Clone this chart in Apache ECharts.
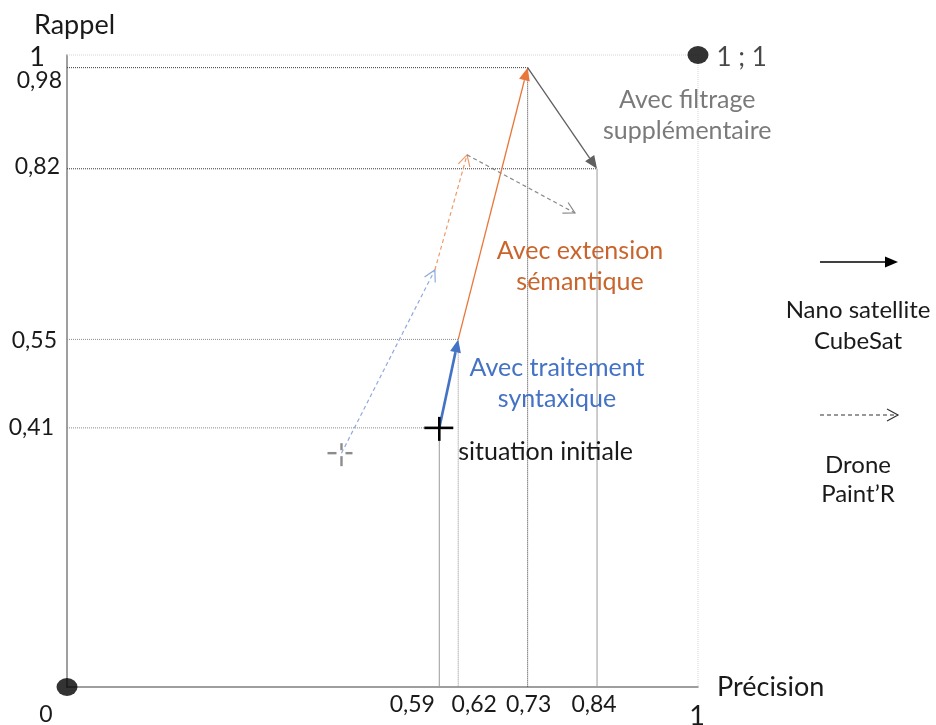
<!DOCTYPE html>
<html>
<head>
<meta charset="utf-8">
<title>Rappel / Précision</title>
<script src="https://cdn.jsdelivr.net/npm/echarts@6/dist/echarts.min.js"></script>
<style>
html, body { margin: 0; padding: 0; background: #fff; }
#chart { width: 936px; height: 725px; }
</style>
</head>
<body>
<div id="chart"></div>
<script>
// tick labels on each axis (0 is the shared origin label)
const xTicks = [0, 0.59, 0.62, 0.73, 0.84, 1];
const yTicks = [0.41, 0.55, 0.82, 0.98, 1];

// precision / recall after each processing step
// steps: initial -> syntaxique -> sémantique -> filtrage
const cubesatPrecision = [0.59, 0.62, 0.73, 0.84];
const cubesatRecall = [0.41, 0.55, 0.98, 0.82];
const dronePrecision = [0.435, 0.583, 0.634, 0.805];
const droneRecall = [0.37, 0.66, 0.842, 0.75];

const corners = [[0, 0], [1, 1]];

const FONT = 'Lato, "Open Sans", sans-serif';
const stepColors = ['#4472C4', '#E8773A', '#5f5f5f'];
const droneColors = ['#8FAADC', '#EE9A68', '#8a8a8a'];

const notes = [
  { text: 'Avec filtrage\nsupplémentaire', at: [0.983, 0.905], color: '#7a7a7a', align: 'center' },
  { text: 'Avec extension\nsémantique', at: [0.813, 0.665], color: '#C9642C', align: 'center' },
  { text: 'Avec traitement\nsyntaxique', at: [0.7765, 0.48], color: '#4472C4', align: 'center' },
  { text: 'situation initiale', at: [0.62, 0.372], color: '#1a1a1a', align: 'left' }
];

const guideStyles = {
  darkDot: { stroke: '#3a3a3a', lineWidth: 1, lineDash: [1, 1] },
  grayDot: { stroke: '#8c8c8c', lineWidth: 1, lineDash: [1, 1] },
  graySolid: { stroke: '#9a9a9a', lineWidth: 1 },
  lightDot: { stroke: '#d6d6d6', lineWidth: 1, lineDash: [1, 1] }
};
const hGuide = ['grayDot', 'grayDot', 'darkDot', 'darkDot'];
const vGuide = ['graySolid', 'grayDot', 'darkDot', 'graySolid'];

function fmt (v) {
  return String(v).replace('.', ',');
}

function arrowShapes (p1, p2, color, width, dashed) {
  const len = dashed ? 11 : 13;
  const half = dashed ? 6 : 5.5;
  const dx = p2[0] - p1[0];
  const dy = p2[1] - p1[1];
  const d = Math.hypot(dx, dy);
  const ux = dx / d;
  const uy = dy / d;
  const bx = p2[0] - ux * len;
  const by = p2[1] - uy * len;
  const left = [bx - uy * half, by + ux * half];
  const right = [bx + uy * half, by - ux * half];
  const line = {
    type: 'line',
    shape: { x1: p1[0], y1: p1[1], x2: dashed ? p2[0] : bx, y2: dashed ? p2[1] : by },
    style: { stroke: color, lineWidth: width, lineDash: dashed ? [4, 3] : null }
  };
  const head = dashed
    ? { type: 'polyline', shape: { points: [left, p2, right] }, style: { stroke: color, lineWidth: 1.2, fill: 'none' } }
    : { type: 'polygon', shape: { points: [left, p2, right] }, style: { fill: color } };
  return [line, head];
}

function pathSeries (name, xs, ys, colors, widths, dashed) {
  return {
    type: 'custom',
    name: name,
    silent: true,
    z: 5,
    encode: { x: [0, 2], y: [1, 3] },
    data: xs.slice(1).map((x, i) => [xs[i], ys[i], x, ys[i + 1], i]),
    renderItem (params, api) {
      const i = api.value(4);
      const p1 = api.coord([api.value(0), api.value(1)]);
      const p2 = api.coord([api.value(2), api.value(3)]);
      return { type: 'group', children: arrowShapes(p1, p2, colors[i], widths[i], dashed) };
    }
  };
}

const chart = echarts.init(document.getElementById('chart'));

chart.setOption({
  animation: false,
  backgroundColor: '#fff',
  grid: { left: 67, right: 238, top: 55, bottom: 38 },
  xAxis: {
    type: 'value', min: 0, max: 1,
    name: 'Précision', nameLocation: 'end', nameGap: 19,
    nameTextStyle: { fontSize: 27, color: '#1a1a1a', fontFamily: FONT },
    axisLine: { lineStyle: { color: '#7f7f7f', width: 1.5 } },
    axisTick: { show: false }, axisLabel: { show: false }, splitLine: { show: false }
  },
  yAxis: {
    type: 'value', min: 0, max: 1,
    name: 'Rappel', nameLocation: 'end', nameGap: 16,
    nameTextStyle: { fontSize: 27, color: '#1a1a1a', fontFamily: FONT, padding: [0, 0, 0, 15] },
    axisLine: { lineStyle: { color: '#7f7f7f', width: 1.5 } },
    axisTick: { show: false }, axisLabel: { show: false }, splitLine: { show: false }
  },
  series: [
    {
      // dotted / solid guide lines from each CubeSat point to the axes, plus the 1;1 frame
      type: 'custom',
      silent: true,
      z: 1,
      data: cubesatPrecision.map((x, i) => [x, cubesatRecall[i], i]).concat([[1, 1, -1]]),
      renderItem (params, api) {
        const x = api.value(0);
        const y = api.value(1);
        const i = api.value(2);
        const p = api.coord([x, y]);
        const py = api.coord([0, y]);
        const px = api.coord([x, 0]);
        const hs = i < 0 ? guideStyles.lightDot : guideStyles[hGuide[i]];
        const vs = i < 0 ? guideStyles.lightDot : guideStyles[vGuide[i]];
        return {
          type: 'group',
          children: [
            { type: 'line', shape: { x1: py[0], y1: py[1], x2: p[0], y2: p[1] }, style: hs },
            { type: 'line', shape: { x1: p[0], y1: p[1], x2: px[0], y2: px[1] }, style: vs }
          ]
        };
      }
    },
    pathSeries('Nano satellite CubeSat', cubesatPrecision, cubesatRecall, stepColors, [2.6, 1.3, 1.3], false),
    pathSeries('Drone Paint’R', dronePrecision, droneRecall, droneColors, [1.2, 1.2, 1.2], true),
    {
      // starting crosses
      type: 'custom',
      silent: true,
      z: 6,
      data: [[cubesatPrecision[0], cubesatRecall[0], 0], [dronePrecision[0], droneRecall[0], 1]],
      renderItem (params, api) {
        const p = api.coord([api.value(0), api.value(1)]);
        const seg = (a, b, c, d, st) => ({ type: 'line', shape: { x1: p[0] + a, y1: p[1] + b, x2: p[0] + c, y2: p[1] + d }, style: st });
        if (api.value(2) === 0) {
          const st = { stroke: '#000', lineWidth: 2.6 };
          return { type: 'group', children: [seg(-15, 0, 14, 0, st), seg(0, -11, 0, 13, st)] };
        }
        const st = { stroke: '#8c8c8c', lineWidth: 2.4 };
        return {
          type: 'group',
          children: [seg(-14, 0, -5, 0, st), seg(4, 0, 11, 0, st), seg(0, -10, 0, -3, st), seg(0, 3, 0, 13, st)]
        };
      }
    },
    {
      // origin and 1 ; 1 markers
      type: 'scatter',
      silent: true,
      z: 7,
      symbol: 'circle',
      symbolSize: [21, 18],
      itemStyle: { color: '#000' },
      data: [
        { value: corners[0] },
        {
          value: corners[1],
          label: { show: true, position: 'right', distance: 8, formatter: '1 ; 1', fontSize: 26, color: '#1a1a1a', fontFamily: FONT, offset: [0, 3] }
        }
      ]
    },
    {
      // x tick labels
      type: 'custom',
      silent: true,
      data: xTicks.map(v => [v, 0]),
      renderItem (params, api) {
        const nudge = [-21, -27, 16, 1, -3, -1];
        const drop = [28, 18, 18, 18, 18, 29];
        const i = params.dataIndex;
        const v = api.value(0);
        const p = api.coord([v, 0]);
        const big = v === 1;
        return {
          type: 'text', x: p[0] + nudge[i], y: p[1] + drop[i],
          style: { text: fmt(v), fill: '#1a1a1a', fontSize: big ? 27 : 23, fontFamily: FONT, align: 'center', verticalAlign: 'middle' }
        };
      }
    },
    {
      // y tick labels
      type: 'custom',
      silent: true,
      data: yTicks.map(v => [0, v]),
      renderItem (params, api) {
        const shift = [-13, -10, -7, -5, -22];
        const lift = [0, 1, -2, 13, 2];
        const i = params.dataIndex;
        const v = api.value(1);
        const p = api.coord([0, v]);
        const big = v === 1;
        return {
          type: 'text', x: p[0] + shift[i], y: p[1] + lift[i],
          style: { text: fmt(v), fill: '#1a1a1a', fontSize: big ? 27 : 23, fontFamily: FONT, align: 'right', verticalAlign: 'middle' }
        };
      }
    },
    {
      // step annotations
      type: 'custom',
      silent: true,
      z: 8,
      data: notes.map(n => n.at),
      renderItem (params, api) {
        const n = notes[params.dataIndex];
        const p = api.coord([api.value(0), api.value(1)]);
        return {
          type: 'text', x: p[0], y: p[1],
          style: { text: n.text, fill: n.color, fontSize: 25, fontFamily: FONT, align: n.align, verticalAlign: 'middle', lineHeight: 31 }
        };
      }
    }
  ],
  graphic: [].concat(
    arrowShapes([820, 262], [898, 262], '#000', 1.3, false),
    arrowShapes([820, 415], [898, 415], '#333', 1.1, true),
    [
      { type: 'text', x: 858, y: 326, style: { text: 'Nano satellite\nCubeSat', fill: '#1a1a1a', fontSize: 24, fontFamily: FONT, align: 'center', verticalAlign: 'middle', lineHeight: 31 } },
      { type: 'text', x: 858, y: 480, style: { text: 'Drone\nPaint’R', fill: '#1a1a1a', fontSize: 24, fontFamily: FONT, align: 'center', verticalAlign: 'middle', lineHeight: 29 } }
    ]
  )
});
</script>
</body>
</html>
